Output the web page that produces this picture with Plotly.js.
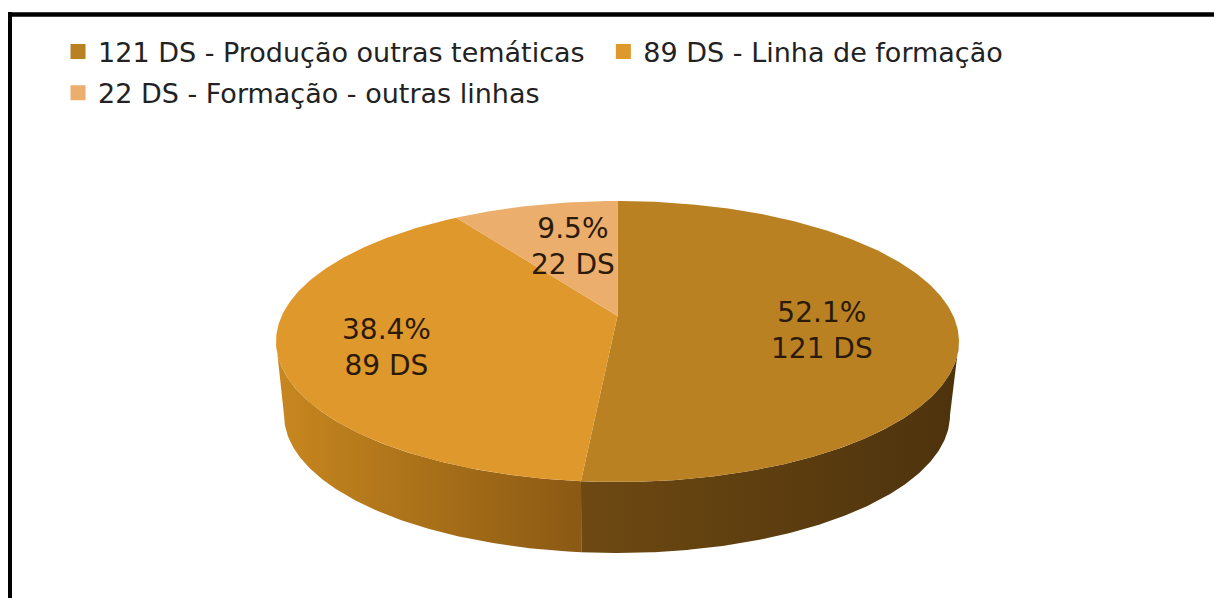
<!DOCTYPE html>
<html><head><meta charset="utf-8">
<script src="https://cdn.plot.ly/plotly-3.0.1.min.js"></script>
<style>html,body{margin:0;padding:0;background:#fff}#chart{width:1214px;height:598px}</style>
</head><body><div id="chart"></div>
<script>
const categories = ["121 DS - Produção outras temáticas", "89 DS - Linha de formação", "22 DS - Formação - outras linhas"];
const values = [121, 89, 22];
const percents = ["52.1", "38.4", "9.5"];
const sliceColors = ["#B98122", "#DF982C", "#EBAE6C"];
const wallStops = [["#6E4912", "#4D330D"], ["#C8871F", "#8A5913"]];

const FONT = "DejaVu Sans, sans-serif";
const top_ = {cx: 617.5, cy: 341.5, rx: 341.5, ry: 140.5};
const apex = [617.5, 316];   // the slices meet above the ellipse centre (perspective)
const low = {cx: 617, cy: 415, rx: 333, ry: 138};
const TILT = 0.79;           // foreshortening of angles on the tilted disc
const labelPos = [[822, 330], [386, 347], [573, 246]];
const legendPos = [[0.0478, 0.913], [0.4970, 0.913], [0.0478, 0.844]];

const total = values.reduce((a, b) => a + b, 0);
const toParam = th => {  // true angle (clockwise from top) to ellipse parameter
  const t = Math.atan2(Math.sin(th) * TILT, Math.cos(th));
  return t < 0 ? t + 2 * Math.PI : t;
};
const pt = (e, t) => [e.cx + e.rx * Math.sin(t), e.cy - e.ry * Math.cos(t)];
const arc = (e, a, b) => {
  const out = [], n = Math.max(8, Math.ceil(Math.abs(b - a) / 0.01));
  for (let i = 0; i <= n; i++) out.push(pt(e, a + (b - a) * i / n));
  return out;
};
const edges = [0];
values.forEach(v => edges.push(edges[edges.length - 1] + v / total * 2 * Math.PI));
const param = edges.map((th, i) => i === edges.length - 1 ? 2 * Math.PI : toParam(th));

const polyTrace = (poly, extra) => Object.assign({
  type: "scatter", mode: "lines", x: poly.map(p => p[0]), y: poly.map(p => p[1]),
  fill: "toself", line: {width: 0}, hoverinfo: "skip", showlegend: false
}, extra);

const traces = [];
// side wall: visible front part from the right extreme to the left extreme
const HALF = Math.PI / 2, THREE = 3 * Math.PI / 2;
const wall = (a, b, stops) => polyTrace(
  arc(top_, a, b).concat(arc(low, b, a)),
  {fillgradient: {type: "horizontal", colorscale: [[0, stops[0]], [1, stops[1]]]}});
traces.push(wall(param[1], THREE, wallStops[1]));
traces.push(wall(HALF, param[1], wallStops[0]));
// top faces
values.forEach((v, i) => {
  const poly = [apex].concat(arc(top_, param[i], param[i + 1]));
  poly.push(apex);
  traces.push(polyTrace(poly, {fillcolor: sliceColors[i]}));
});
// legend entries
categories.forEach((c, i) => traces.push({
  type: "scatter", mode: "markers", x: [null], y: [null], name: c,
  legend: i === 0 ? "legend" : "legend" + (i + 1),
  marker: {symbol: "square", size: 15, color: sliceColors[i]},
  showlegend: true, hoverinfo: "skip"
}));

const legendCfg = i => ({
  x: legendPos[i][0], y: legendPos[i][1], xanchor: "left", yanchor: "middle",
  bgcolor: "rgba(0,0,0,0)", borderwidth: 0, itemsizing: "trace", orientation: "h",
  font: {family: FONT, size: 27, color: "#222222"}
});

const layout = {
  width: 1214, height: 598, margin: {l: 0, r: 0, t: 0, b: 0},
  paper_bgcolor: "#fff", plot_bgcolor: "#fff",
  xaxis: {range: [0, 1214], visible: false, fixedrange: true},
  yaxis: {range: [598, 0], visible: false, fixedrange: true},
  legend: legendCfg(0), legend2: legendCfg(1), legend3: legendCfg(2),
  annotations: values.map((v, i) => ({
    x: labelPos[i][0], y: labelPos[i][1], xref: "x", yref: "y", showarrow: false,
    text: percents[i] + "%<br>" + v + " DS", align: "center",
    font: {family: FONT, size: 28, color: "#2A1A0A"}
  })),
  shapes: [
    {type: "line", xref: "x", yref: "y", x0: 8, x1: 1214, y0: 14.5, y1: 14.5, line: {color: "#000", width: 4.5}},
    {type: "line", xref: "x", yref: "y", x0: 10, x1: 10, y0: 12, y1: 598, line: {color: "#000", width: 4}}
  ]
};
Plotly.newPlot("chart", traces, layout, {displayModeBar: false, staticPlot: true});
</script></body></html>
